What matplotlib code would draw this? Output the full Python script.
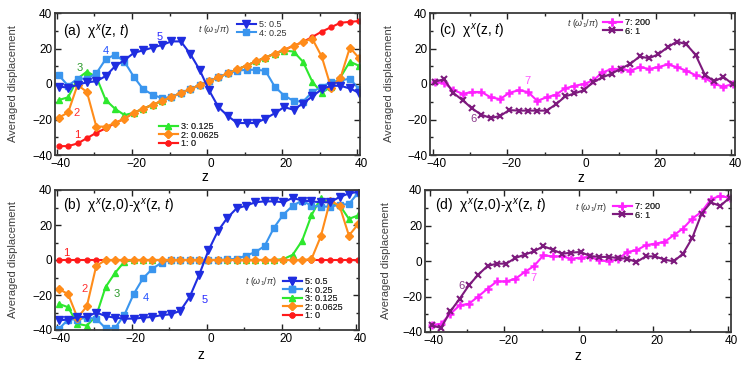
import matplotlib
matplotlib.use("Agg")
import matplotlib.pyplot as plt
import matplotlib.transforms as mtrans
from matplotlib.ticker import MultipleLocator

plt.rcParams['font.family'] = ['Liberation Sans', 'DejaVu Sans']
plt.rcParams['mathtext.fontset'] = 'custom'
plt.rcParams['mathtext.rm'] = 'Liberation Sans'
plt.rcParams['mathtext.it'] = 'Liberation Sans:italic'
plt.rcParams['mathtext.sf'] = 'Liberation Sans'

# ---------------- data ----------------
z = [-39.5, -37.0, -34.5, -32.0, -29.5, -27.0, -24.5, -22.0, -19.5, -17.0, -14.5,
     -12.0, -9.5, -7.0, -4.5, -2.0, 0.5, 3.0, 5.5, 8.0, 10.5, 13.0, 15.5, 18.0,
     20.5, 23.0, 25.5, 28.0, 30.5, 33.0, 35.5, 38.0, 40.5]

# panel (a): chi^x(z,t)
a_t0 = [-35, -35, -33.5, -30.5, -27.5, -25, -22, -19.5, -16.2, -13.9, -11.7, -9.5, -7.3,
        -5.1, -2.9, -0.6, 1.6, 3.8, 6.0, 8.2, 10.4, 12.7, 14.9, 17.1, 19.3, 21.5, 23.7,
        26.5, 29.5, 32, 34.5, 35, 35.5]
a_t0625 = [-19, -16, -0.5, -4.5, -24, -24, -22, -19.5, -16.2, -13.9, -11.7, -9.5, -7.3,
           -5.1, -2.9, -0.6, 1.6, 3.8, 6.0, 8.2, 10.4, 12.7, 14.9, 17.1, 19.3, 21.5, 23.7,
           25.5, 15.5, -2, 3.5, 20.5, 14.5]
a_t125 = [-9, -7.5, 3, 7, 4, -9, -14, -17.5, -16.2, -13.9, -11.7, -9.5, -7.3, -5.1, -2.9,
          -0.6, 1.6, 3.8, 6.0, 8.2, 10.4, 12.7, 14.9, 17.1, 18.8, 18.3, 12.6, 1.3, -5,
          -1.5, 3.8, 12.6, 10.2]
a_t25 = [5, -1, 3, 3, 6, 14, 16.5, 12.5, 4, -3, -6, -8, -7.3, -5.1, -2.9, -0.6, 1.6, 3.8,
         6.0, 7.5, 8, 8, 7.5, -1.5, -6.5, -9.5, -10, -4.5, -1.5, 1, 2, 3, -3]
a_t5 = [-1.5, -2, -0.5, 1, 1.5, 4.5, 10, 13.5, 17.5, 19, 20.5, 22, 24, 24, 17, 8, -3.5,
        -13, -18, -22, -22, -22, -19.5, -16.5, -13, -14.5, -11, -7, -3, -1, -1, -2.5, -5]

# panel (b): chi^x(z,0) - chi^x(z,t)
b_t0 = [0] * 33
b_t0625 = [-16.5, -19.5, -33, -26.5, -3.5, 0, 0, 0, 0, 0, 0, 0, 0, 0, 0, 0, 0, 0, 0, 0, 0,
           0, 0, 0, 0, 0, 0, 0.5, 13.5, 34, 31, 14, 20.5]
b_t125 = [-25, -27, -36.5, -37.5, -32, -15.5, -7.5, -1, 0, 0, 0, 0, 0, 0, 0, 0, 0, 0, 0,
          0, 0, 0, 0, 0, 0.5, 3, 11, 25.5, 35.5, 32, 31.5, 23.5, 25.5]
b_t25 = [-39.5, -34, -34, -33, -33.5, -39, -39, -31.5, -19.5, -10.5, -5, -1.5, 0, 0, 0, 0,
         0, 0, 0.3, 0.7, 2.5, 4.5, 8, 18.5, 26, 31, 34, 31, 30.5, 30.5, 31.5, 32, 38.5]
b_t5 = [-34.5, -34, -32.5, -32.5, -30, -32, -33, -33.5, -33.5, -33, -32.5, -31.5, -31,
        -29, -21, -8.5, 5.5, 16.5, 24, 29.5, 31, 33, 33.5, 33.5, 33, 35.5, 34, 33.5, 33,
        33, 36, 38, 39]

# panel (c): chi^x(z,t), long times
c_t1 = [1.3, 2.7, -5.1, -9.2, -13.8, -17.3, -19.2, -18, -14.7, -15, -15, -15, -15, -11.5,
        -7, -5.3, -3.5, 1, 3.7, 5.9, 8.7, 11.4, 15.5, 14.5, 16.7, 20.7, 23.9, 22.4, 16.5,
        5.3, 1.5, 4, -0.1]
c_t200 = [1, 0.5, -3.5, -5.5, -4.5, -4.5, -7.5, -8.5, -5, -3.5, -4.5, -9.5, -7.5, -6,
          -2.5, -1, 0, 2, 6.5, 8.5, 8.5, 7.5, 9.5, 8.5, 9.5, 11, 9.5, 7.5, 5, 3.5, 0, -1.5, 0]

# panel (d): chi^x(z,0) - chi^x(z,t), long times
d_t1 = [-36.3, -37.7, -28.4, -21.3, -13.7, -7.7, -2.8, -1.5, -1.5, 1.7, 3.6, 5.5, 8.3, 6.4,
        4.1, 4.7, 5.1, 2.8, 2.3, 2.3, 1.7, 1.3, -0.6, 2.6, 2.6, 0.8, -0.2, 4.1, 13, 26.7,
        33, 31, 35.6]
d_t200 = [-36, -35.4, -29.8, -25, -24.1, -20, -15.6, -11.5, -11.5, -10, -6.2, -2.8, 3.2,
          2.6, 2.6, 1.3, 1.9, 2.3, 0.4, -0.2, 0.9, 5.1, 6, 8.9, 9.8, 10.7, 14.5, 18.3,
          23.9, 27.7, 34.8, 36.7, 35.6]

labels_short = ['5: 0.5', '4: 0.25', '3: 0.125', '2: 0.0625', '1: 0']
labels_long = ['7: 200', '6: 1']

# ---------------- style ----------------
C_RED = '#ff1a1a'
C_ORA = '#ff8c1a'
C_GRN = '#2ee82e'
C_LBL = '#3a95ee'
C_BLU = '#1f2de0'
C_MAG = '#ff22ff'
C_PUR = '#7d1a7d'

sty = {
    '1': dict(color=C_RED, marker='o', ms=3.5, lw=1.5),
    '2': dict(color=C_ORA, marker='D', ms=4.2, lw=1.5),
    '3': dict(color=C_GRN, marker='^', ms=5, lw=1.5),
    '4': dict(color=C_LBL, marker='s', ms=4.2, lw=1.5),
    '5': dict(color=C_BLU, marker='v', ms=5.5, lw=1.5),
    '6': dict(color=C_PUR, marker='x', ms=5, mew=1.5, lw=1.5),
    '7': dict(color=C_MAG, marker='+', ms=6, mew=1.8, lw=1.5),
}

W, H = 747, 366
fig = plt.figure(figsize=(W / 100, H / 100), dpi=100)
xshift = mtrans.ScaledTranslation(4 / 100, 0, fig.dpi_scale_trans)


def px_axes(l, r, t, b):
    return fig.add_axes([l / W, 1 - b / H, (r - l) / W, (b - t) / H])


def fx(x):
    return x / W


def fy(y):
    return 1 - y / H


def style_axes(ax, xlim):
    ax.set_xlim(*xlim)
    ax.set_ylim(-40, 40)
    ax.xaxis.set_major_locator(MultipleLocator(20))
    ax.xaxis.set_minor_locator(MultipleLocator(10))
    ax.yaxis.set_major_locator(MultipleLocator(20))
    ax.yaxis.set_minor_locator(MultipleLocator(10))
    ax.tick_params(which='both', direction='in', top=True, right=True,
                   labelsize=8.5, pad=2, color='#222222', width=1.0)
    ax.tick_params(which='major', length=4.5)
    ax.tick_params(which='minor', length=2.5)
    for s in ax.spines.values():
        s.set_color('#3a3a3a')
        s.set_linewidth(1.3)
    for lab in ax.get_xticklabels():
        lab.set_transform(lab.get_transform() + xshift)


def legend_at(ax, handles, labels, x, y):
    leg = ax.legend(handles, labels, loc='upper left',
                    bbox_to_anchor=(fx(x), fy(y)), bbox_transform=fig.transFigure,
                    frameon=False, fontsize=6.5, handlelength=2.1,
                    handletextpad=0.3, labelspacing=-0.05, borderpad=0,
                    borderaxespad=0)
    for t in leg.get_texts():
        t.set_color('#333333')
    ax.add_artist(leg)
    return leg


def zlabel(ax, xpix, toppix, l, b, w, h):
    ax.set_xlabel('z', fontsize=10)
    ax.xaxis.set_label_coords((xpix - l) / w, (b - toppix) / h)


HEADER = r'$t$ ($\omega_1/\pi$)'

# ---------------- panel (a) ----------------
ax = px_axes(55, 360, 13, 155)
style_axes(ax, (-40.5, 40.7))
h1, = ax.plot(z, a_t0, **sty['1'])
h3, = ax.plot(z, a_t125, **sty['3'])
h4, = ax.plot(z, a_t25, **sty['4'])
h2, = ax.plot(z, a_t0625, **sty['2'])
h5, = ax.plot(z, a_t5, **sty['5'])
legend_at(ax, [h5, h4], labels_short[:2], 237, 20)
legend_at(ax, [h3, h2, h1], labels_short[2:], 159, 122)
fig.text(fx(214), fy(29), HEADER, fontsize=6.5, ha='center', va='center', color='#333333')
fig.text(fx(63), fy(32), r'(a)  χ$^x$(z, $t$)', fontsize=10, ha='left', va='center')
for txt, xx, yy, c in [('1', -34.5, -28.8, C_RED), ('2', -34.7, -16.2, '#ff3030'),
                       ('3', -34, 9.2, '#2a9a2a'), ('4', -27, 18.8, '#2050ff'),
                       ('5', -12.6, 26.2, '#2a2aff')]:
    ax.text(xx, yy, txt, color=c, fontsize=8, ha='center', va='center')
ax.set_ylabel('Averaged displacement', fontsize=8, color='#404040')
ax.yaxis.set_label_coords((18 - 55) / 305, 0.5)
zlabel(ax, 205, 170, 55, 155, 305, 142)

# ---------------- panel (b) ----------------
ax = px_axes(55, 359, 190, 330)
style_axes(ax, (-40.5, 40.7))
h1, = ax.plot(z, b_t0, **sty['1'])
h3, = ax.plot(z, b_t125, **sty['3'])
h4, = ax.plot(z, b_t25, **sty['4'])
h2, = ax.plot(z, b_t0625, **sty['2'])
h5, = ax.plot(z, b_t5, **sty['5'])
legend_at(ax, [h5, h4, h3, h2, h1], labels_short, 283, 277)
fig.text(fx(261), fy(282), HEADER, fontsize=6.5, ha='center', va='center', color='#333333')
fig.text(fx(63), fy(207), r'(b)  χ$^x$(z,0)-χ$^x$(z, $t$)', fontsize=10, ha='left', va='center')
for txt, xx, yy, c in [('1', -37.6, 4.1, C_RED), ('2', -32.7, -16.7, '#ff3030'),
                       ('3', -24.1, -19.2, '#2a9a2a'), ('4', -16.2, -21.6, '#2050ff'),
                       ('5', -0.6, -23, '#2a2aff')]:
    ax.text(xx, yy, txt, color=c, fontsize=8, ha='center', va='center')
ax.set_ylabel('Averaged displacement', fontsize=8, color='#404040')
ax.yaxis.set_label_coords((18 - 55) / 304, 0.5)
zlabel(ax, 201, 348, 55, 330, 304, 140)

# ---------------- panel (c) ----------------
ax = px_axes(430, 735, 13, 155)
style_axes(ax, (-40.8, 41.1))
h7, = ax.plot(z, c_t200, **sty['7'])
h6, = ax.plot(z, c_t1, **sty['6'])
legend_at(ax, [h7, h6], labels_long, 603, 18)
fig.text(fx(583), fy(24), HEADER, fontsize=6.5, ha='center', va='center', color='#333333')
fig.text(fx(439), fy(31), r'(c)  χ$^x$(z, $t$)', fontsize=10, ha='left', va='center')
ax.text(-14.5, 1.5, '7', color='#ff55ff', fontsize=8, ha='center', va='center')
ax.text(-29.2, -19.5, '6', color='#8a3a8a', fontsize=8, ha='center', va='center')
ax.set_ylabel('Averaged displacement', fontsize=8, color='#404040')
ax.yaxis.set_label_coords((394 - 430) / 305, 0.5)
zlabel(ax, 581, 171, 430, 155, 305, 142)

# ---------------- panel (d) ----------------
ax = px_axes(425, 731, 190, 332)
style_axes(ax, (-41.3, 40.9))
h7, = ax.plot(z, d_t200, **sty['7'])
h6, = ax.plot(z, d_t1, **sty['6'])
legend_at(ax, [h7, h6], labels_long, 613, 202)
fig.text(fx(591), fy(207), HEADER, fontsize=6.5, ha='center', va='center', color='#333333')
fig.text(fx(435), fy(207), r'(d)  χ$^x$(z,0)-χ$^x$(z, $t$)', fontsize=10, ha='left', va='center')
ax.text(-31.4, -14.3, '6', color='#8a3a8a', fontsize=8, ha='center', va='center')
ax.text(-12.1, -9.6, '7', color='#ff55ff', fontsize=8, ha='center', va='center')
ax.set_ylabel('Averaged displacement', fontsize=8, color='#404040')
ax.yaxis.set_label_coords((391 - 425) / 306, 0.5)
zlabel(ax, 578, 349, 425, 332, 306, 142)

fig.savefig('out.png', dpi=100)
